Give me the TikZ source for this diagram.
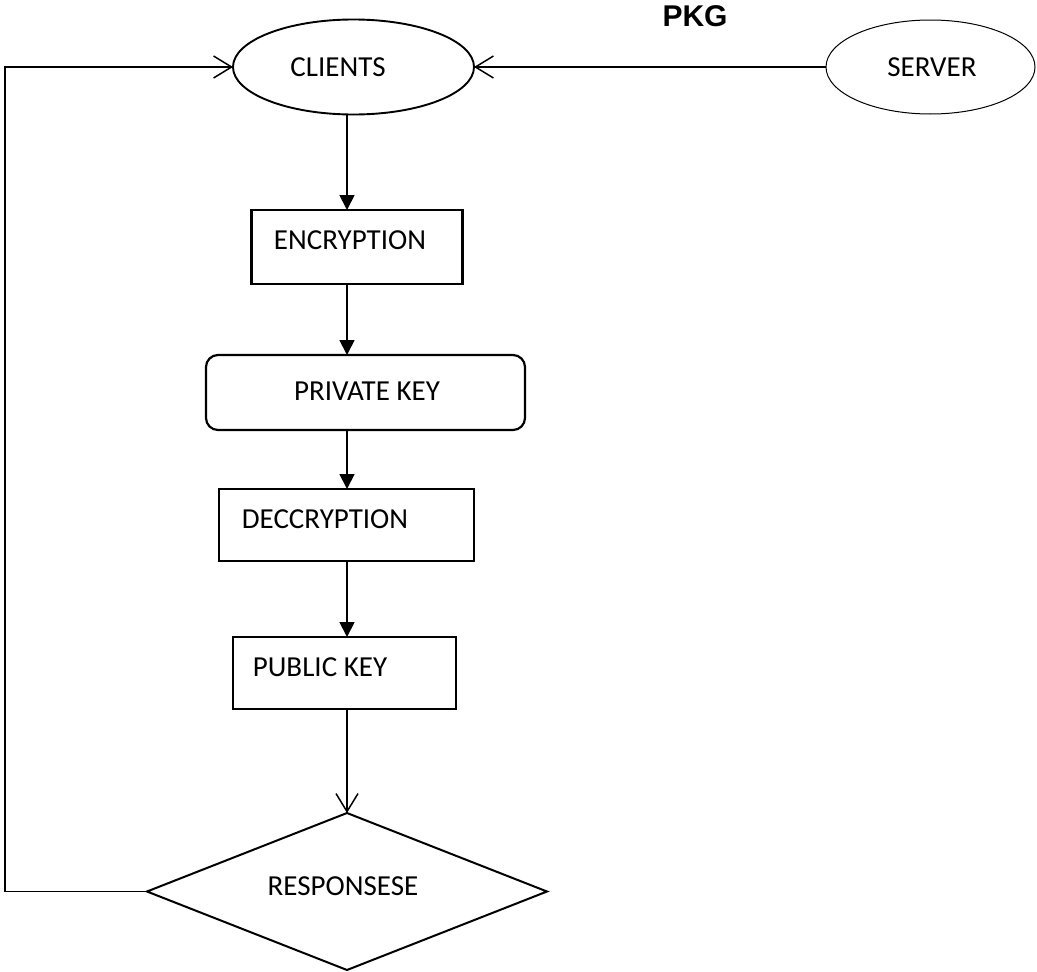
\documentclass[tikz,border=0pt]{standalone}
\usepackage{fontspec}
\setmainfont{Carlito}
\newfontfamily\headfont{Liberation Sans}
\usetikzlibrary{shapes.geometric,arrows.meta}

\tikzset{
  x=1pt, y=1pt,
  shapebox/.style={draw, line width=2.2pt, inner sep=0pt, outer sep=0pt},
  stepbox/.style={shapebox, rectangle},
  roundbox/.style={shapebox, rectangle, rounded corners=12pt},
  oval/.style={shapebox, ellipse},
  decision/.style={shapebox, diamond, line width=2pt},
  caption/.style={inner sep=0pt, font=\fontsize{29}{34}\selectfont},
  flow/.style={line width=1.8pt, -{Triangle[length=15pt,width=15pt]}},
  feed/.style={line width=1.8pt, -{Straight Barb[length=18pt,width=22pt,line width=1.5pt]}},
}

\begin{document}
\begin{tikzpicture}
  \useasboundingbox (0,0) rectangle (1037,-972);

  % heading
  \node[inner sep=0pt, font=\headfont\bfseries\fontsize{30}{34}\selectfont] (pkg) at (695,-16) {PKG};

  % shapes
  \node[oval, line width=1.9pt, minimum width=241pt, minimum height=95pt] (clients) at (353.5,-67) {};
  \node[oval, line width=1pt, minimum width=209pt, minimum height=94pt] (server) at (930.5,-67) {};
  \node[stepbox, minimum width=211pt, minimum height=74pt] (enc) at (357,-247) {};
  \node[roundbox, minimum width=319pt, minimum height=75pt] (priv) at (365.5,-392.5) {};
  \node[stepbox, minimum width=255pt, minimum height=72pt] (dec) at (346.5,-525) {};
  \node[stepbox, minimum width=223pt, minimum height=72pt] (pub) at (344.5,-673) {};
  \node[decision, minimum width=400pt, minimum height=157pt, aspect=2.55] (resp) at (347,-891.5) {};

  % captions
  \node[caption] (clientsT) at (338,-67) {CLIENTS};
  \node[caption] (serverT) at (932,-67) {SERVER};
  \node[caption] (encT) at (350,-240) {ENCRYPTION};
  \node[caption] (privT) at (367,-391) {PRIVATE KEY};
  \node[caption] (decT) at (325,-519) {DECCRYPTION};
  \node[caption] (pubT) at (320,-667) {PUBLIC KEY};
  \node[caption] (respT) at (343,-886) {RESPONSESE};

  % main column
  \draw[flow] (clients.south -| resp.north) -- (enc.north -| resp.north);
  \draw[flow] (enc.south -| resp.north) -- (priv.north -| resp.north);
  \draw[flow] (priv.south -| resp.north) -- (dec.north -| resp.north);
  \draw[flow] (dec.south -| resp.north) -- (pub.north -| resp.north);
  \draw[feed] (pub.south -| resp.north) -- (resp.north);

  % server to clients
  \draw[feed] (server.west) -- (clients.east);

  % feedback loop
  \coordinate (loopx) at (5,0);
  \draw[feed] (resp.west) -- (resp.west -| loopx) -- (clients.west -| loopx) -- (clients.west);
\end{tikzpicture}
\end{document}
